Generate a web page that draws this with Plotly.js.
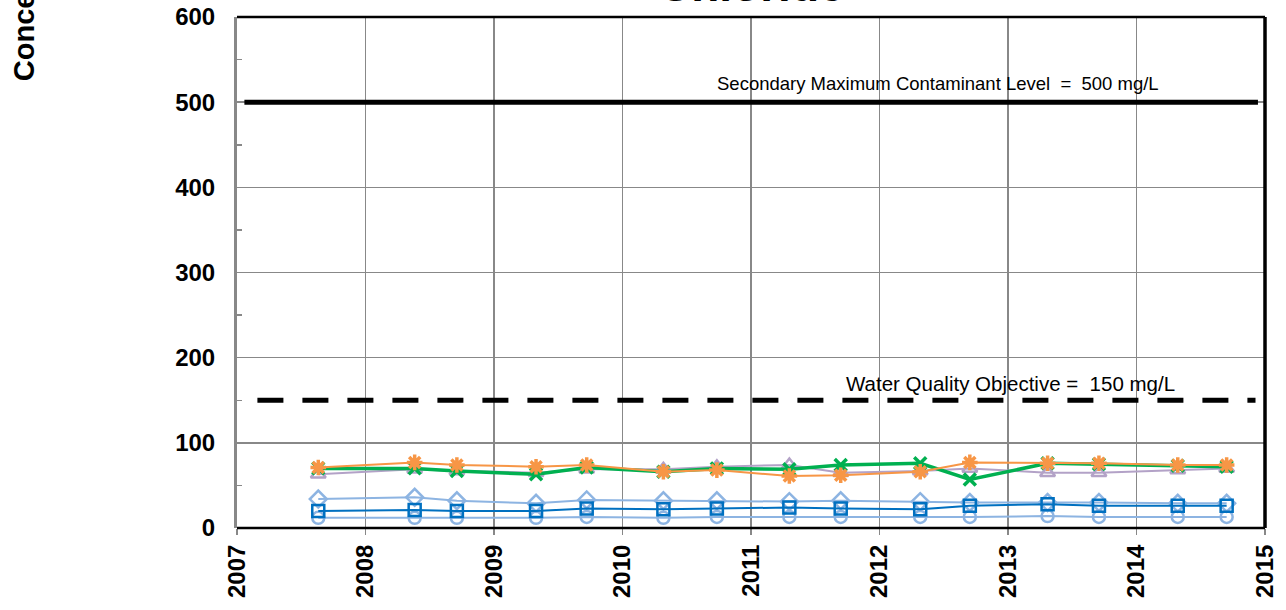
<!DOCTYPE html>
<html>
<head>
<meta charset="utf-8">
<script src="https://cdn.plot.ly/plotly-3.0.1.min.js"></script>
<style>html,body{margin:0;padding:0;background:#fff;}#chart{width:1286px;height:610px;}</style>
</head>
<body>
<div id="chart"></div>
<script>
// Sample dates
const dates = ['2007-08-20','2008-05-20','2008-09-17','2009-04-30','2009-09-21','2010-04-27','2010-09-26','2011-04-20','2011-09-13','2012-04-26','2012-09-14','2013-04-23','2013-09-16','2014-04-28','2014-09-14'];
// Chloride concentrations (mg/L) per well
const wellOrange = [71, 77, 74, 72, 74, 66, 68, 61, 62, 66, 77, 76, 76, 74, 74];
const wellGreen  = [70, 70, 67, 63, 71, 66, 70, 69, 74, 76, 57, 76, 75, 73, 72];
const wellPurple = [63, 69, 67, 65, 69, 69, 72, 74, 65, 67, 70, 65, 65, 68, 70];
const wellDiamond= [34, 36, 32, 29, 33, 32, 32, 31, 32, 31, 30, 30, 30, 29, 29];
const wellSquare = [20, 21, 20, 20, 23, 22, 23, 24, 23, 22, 26, 28, 26, 26, 26];
const wellCircle = [12, 12, 12, 12, 13, 12, 13, 13, 13, 13, 13, 14, 13, 13, 13];
// Regulatory limits
const smclX = ['2007-01-22','2014-12-12'];
const smclY = [500, 500];
const wqoX = ['2007-02-28','2014-12-05'];
const wqoY = [150, 150];
const yTicks = [0, 100, 200, 300, 400, 500, 600];

const FONT = 'Liberation Sans, Arial, sans-serif';

function series(y, color, symbol, lw, msize, mlw) {
  return {x: dates, y: y, type: 'scatter', mode: 'lines+markers',
    line: {color: color, width: lw},
    marker: {symbol: symbol, size: msize, color: color, line: {color: color, width: mlw}},
    hoverinfo: 'x+y', showlegend: false};
}

const traces = [
  {x: smclX, y: smclY, type: 'scatter', mode: 'lines', line: {color: '#000', width: 5}, showlegend: false, hoverinfo: 'skip'},
  {x: wqoX, y: wqoY, type: 'scatter', mode: 'lines', line: {color: '#000', width: 5, dash: '26px,19px'}, showlegend: false, hoverinfo: 'skip'},
  series(wellCircle, '#8DB4E2', 'circle-open', 2, 12, 2.5),
  series(wellDiamond, '#8DB4E2', 'diamond-open', 2, 13, 2.5),
  series(wellSquare, '#0070C0', 'square-open', 2, 12, 2.5),
  series(wellPurple, '#B3A2C7', 'triangle-up-open', 2, 13, 2.5),
  series(wellGreen, '#00B050', 'x-thin-open', 3.5, 12, 3.5),
  series(wellOrange, '#F79646', 'asterisk-open', 2, 13, 3.5)
];

const layout = {
  width: 1286, height: 610,
  margin: {l: 237, r: 21, t: 17, b: 82},
  paper_bgcolor: '#fff', plot_bgcolor: '#fff',
  font: {family: FONT, color: '#000'},
  xaxis: {
    type: 'date', range: ['2007-01-01', '2015-01-01'],
    tick0: '2007-01-01', dtick: 'M12', tickformat: '%Y', tickangle: -90,
    tickfont: {family: FONT, size: 24, color: '#000', weight: 'bold'},
    showgrid: true, gridcolor: '#888', gridwidth: 1.5,
    ticks: 'outside', ticklen: 6, tickcolor: '#888', tickwidth: 1.5,
    showline: false, zeroline: false
  },
  yaxis: {
    range: [0, 600], tickvals: yTicks,
    tickfont: {family: FONT, size: 24, color: '#000', weight: 'bold'},
    showgrid: true, gridcolor: '#888', gridwidth: 1.5,
    ticks: 'inside', ticklen: 5, tickcolor: '#888', tickwidth: 1.5,
    minor: {dtick: 50, ticks: 'inside', ticklen: 5, tickcolor: '#888', tickwidth: 1.5, showgrid: false},
    showline: true, linecolor: '#888', linewidth: 3,
    zeroline: false, ticklabelstandoff: 14
  },
  shapes: [
    {type: 'line', xref: 'paper', yref: 'paper', x0: 0, x1: 1, y0: 1, y1: 1, line: {color: '#000', width: 2.5}},
    {type: 'line', xref: 'paper', yref: 'paper', x0: 1, x1: 1, y0: 0, y1: 1, line: {color: '#000', width: 3.5}},
    {type: 'line', xref: 'paper', yref: 'paper', x0: 0, x1: 1, y0: 0, y1: 0, line: {color: '#000', width: 2.5}}
  ],
  annotations: [
    {text: 'Secondary Maximum Contaminant Level\u00a0\u00a0=\u00a0\u00a0500 mg/L', xref: 'paper', yref: 'y', x: 0.8985, y: 522, xanchor: 'right', yanchor: 'middle', showarrow: false, font: {family: FONT, size: 18.5, color: '#000'}},
    {text: 'Water Quality Objective =\u00a0\u00a0150 mg/L', xref: 'paper', yref: 'y', x: 0.914, y: 170, xanchor: 'right', yanchor: 'middle', showarrow: false, font: {family: FONT, size: 20.5, color: '#000'}},
    {text: 'Chloride', xref: 'paper', yref: 'paper', x: 0.5, y: 1.062, xanchor: 'center', yanchor: 'middle', showarrow: false, font: {family: FONT, size: 46, color: '#000', weight: 'bold'}},
    {text: 'Concentration (mg/L)', textangle: -90, xref: 'paper', yref: 'paper', x: -0.207, y: 0.87, xanchor: 'center', yanchor: 'bottom', showarrow: false, font: {family: FONT, size: 29, color: '#000', weight: 'bold'}}
  ]
};

Plotly.newPlot('chart', traces, layout, {displayModeBar: false, staticPlot: true});
</script>
</body>
</html>
